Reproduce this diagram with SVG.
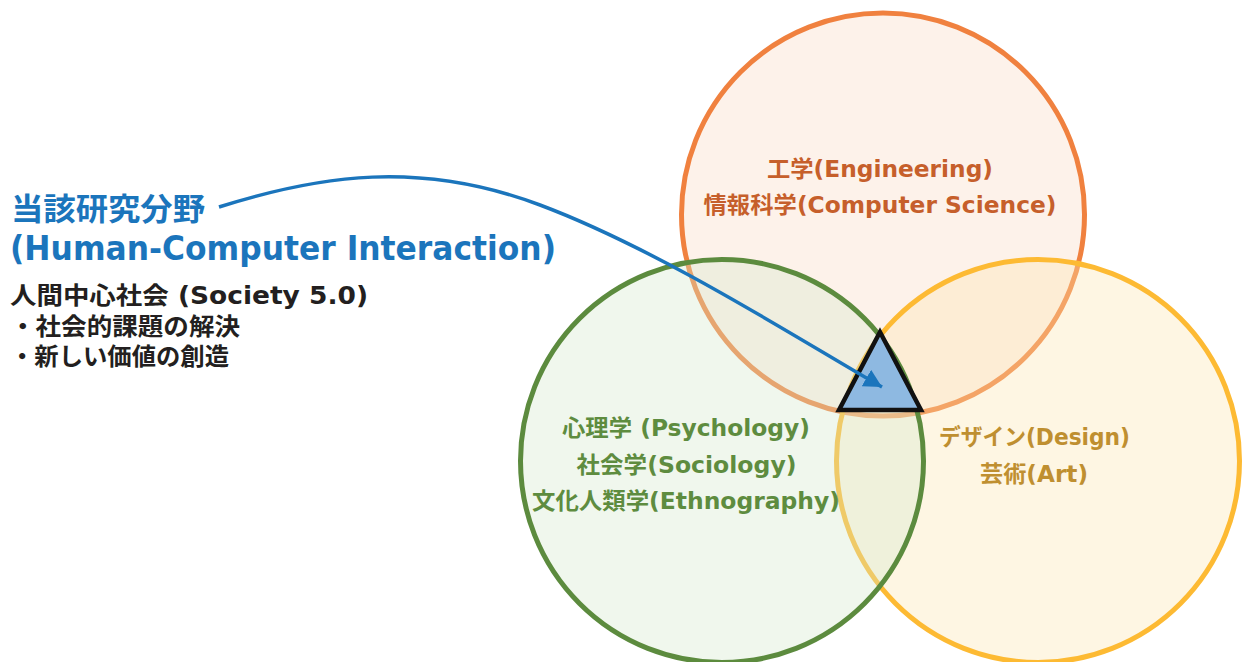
<svg xmlns="http://www.w3.org/2000/svg" width="1244" height="662" viewBox="0 0 1244 662">
  <style>
    text { font-family: "DejaVu Sans", "Noto Sans CJK JP", sans-serif; font-weight: bold; }
    .lbl { text-anchor: middle; font-size: 23px; }
    .circle { stroke-width: 5; }
    .eng { fill: #C65F2B; }
    .psy { fill: #5E8C3F; }
    .des { fill: #BF8F30; }
    .title { fill: #1B75BC; font-size: 31px; }
    .title2 { fill: #1B75BC; font-size: 34px; }
    .body { fill: #231F20; font-size: 24px; }
  </style>
  <defs>
    <marker id="arrow" markerUnits="userSpaceOnUse" markerWidth="18" markerHeight="19" viewBox="0 0 18 19" refX="18" refY="9.5" orient="auto">
      <path d="M0,0 L18,9.5 L0,19 z" fill="#1B75BC"/>
    </marker>
  </defs>
  <rect width="1244" height="662" fill="#FFFFFF"/>

  <g id="node-engineering">
    <circle class="circle" cx="883" cy="214.5" r="201.5" fill="#FBE5D6" fill-opacity="0.5" stroke="#F0813F"/>
    <text class="lbl eng" x="880" y="177" textLength="226" lengthAdjust="spacingAndGlyphs">工学(Engineering)</text>
    <text class="lbl eng" x="880" y="213" textLength="353" lengthAdjust="spacingAndGlyphs">情報科学(Computer Science)</text>
  </g>

  <g id="node-design">
    <circle class="circle" cx="1038" cy="461" r="201.5" fill="#FCE4B0" fill-opacity="0.35" stroke="#FDBA33"/>
    <text class="lbl des" x="1034.5" y="445" textLength="191" lengthAdjust="spacingAndGlyphs">デザイン(Design)</text>
    <text class="lbl des" x="1034" y="482" textLength="108" lengthAdjust="spacingAndGlyphs">芸術(Art)</text>
  </g>

  <g id="node-psychology">
    <circle class="circle" cx="722" cy="461" r="201.5" fill="#D5E8CC" fill-opacity="0.35" stroke="#5C8B3E"/>
    <text class="lbl psy" x="686" y="436" textLength="248" lengthAdjust="spacingAndGlyphs">心理学 (Psychology)</text>
    <text class="lbl psy" x="686.5" y="473" textLength="220" lengthAdjust="spacingAndGlyphs">社会学(Sociology)</text>
    <text class="lbl psy" x="686" y="509" textLength="308" lengthAdjust="spacingAndGlyphs">文化人類学(Ethnography)</text>
  </g>

  <g id="node-hci">
    <polygon points="880,332 839,410 921,410" fill="#8EB9E1" stroke="#111111" stroke-width="4.5" stroke-linejoin="miter"/>
  </g>

  <g id="node-field">
    <text class="title" x="11" y="220" textLength="194" lengthAdjust="spacingAndGlyphs">当該研究分野</text>
    <text class="title2" x="10" y="260" textLength="546" lengthAdjust="spacingAndGlyphs">(Human-Computer Interaction)</text>
    <text class="body" x="10" y="304" textLength="358" lengthAdjust="spacingAndGlyphs">人間中心社会 (Society 5.0)</text>
    <text class="body" x="10" y="335" textLength="230" lengthAdjust="spacingAndGlyphs">・社会的課題の解決</text>
    <text class="body" x="10" y="365" textLength="219" lengthAdjust="spacingAndGlyphs">・新しい価値の創造</text>
  </g>

  <g id="connectors">
    <path d="M219,207 C320,175 420,160 540,205 C660,250 800,340 882,387" fill="none" stroke="#1B75BC" stroke-width="3.5" marker-end="url(#arrow)"/>
  </g>
</svg>
